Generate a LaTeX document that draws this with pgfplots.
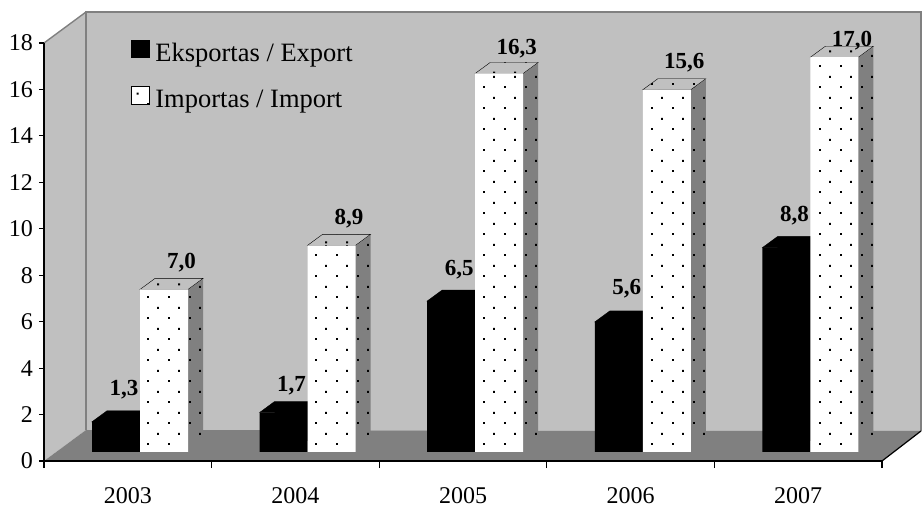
\documentclass[border=0pt]{standalone}
\usepackage{pgfplots}
\pgfplotsset{compat=1.18}
\usepackage{pgfplotstable}
\usepackage{fontspec}
\setmainfont{Liberation Serif}
\usetikzlibrary{patterns}
\definecolor{wallgray}{HTML}{C0C0C0}
\definecolor{floorgray}{HTML}{808080}
\pgfdeclarepatternformonly{sparsedots}{\pgfpointorigin}{\pgfqpoint{21pt}{21.2pt}}{\pgfqpoint{21pt}{21.2pt}}{%
  \pgfpathrectangle{\pgfqpoint{0pt}{0pt}}{\pgfqpoint{2pt}{2pt}}%
  \pgfpathrectangle{\pgfqpoint{10.5pt}{10.6pt}}{\pgfqpoint{2pt}{2pt}}%
  \pgfusepath{fill}}
% top faces, relative to the back-face top centre of each category
\pgfdeclareplotmark{topexp}{\fill[black] (-63pt,-11pt) -- (-15pt,-11pt) -- (0pt,0pt) -- (-48pt,0pt) -- cycle;}
\pgfdeclareplotmark{topimp}{\filldraw[fill=wallgray, draw=wallgray, line width=0.6pt] (-15pt,-11pt) -- (33pt,-11pt) -- (48pt,0pt) -- (0pt,0pt) -- cycle;
  \fill[pattern=sparsedots] (-15pt,-11pt) -- (33pt,-11pt) -- (48pt,0pt) -- (0pt,0pt) -- cycle;}
\pgfplotstableread{
x exp imp eo io
0 1.3 7.0 26 21
1 1.7 8.9 21.5 21
2 6.5 16.3 26 19
3 5.6 15.6 27 21
4 8.8 17.0 26 11
}\data
\begin{document}
\begin{tikzpicture}
\useasboundingbox (-44pt,-47pt) rectangle (879pt,461pt);
% walls, axis lines, ticks, legend
\begin{axis}[at={(0pt,0pt)}, anchor=south west, scale only axis, width=838pt, height=418pt,
  xmin=-0.5, xmax=4.5, ymin=0, ymax=18, axis lines*=left, axis on top, clip=false,
  axis line style={line width=1.2pt, black},
  xtick={0,...,4}, xticklabels={2003,2004,2005,2006,2007},
  minor xtick={-0.5,0.5,...,4.5},
  ytick={0,2,...,18}, tick align=outside,
  major tick length=5pt, minor tick length=7pt,
  tick style={line width=1.2pt, black},
  major x tick style={draw=none},
  ticklabel style={font=\fontsize{24}{24}\selectfont},
  /pgf/number format/assume math mode=true,
  xticklabel style={inner sep=0pt, anchor=north, yshift=-21.5pt},
  yticklabel style={inner sep=0pt, anchor=east, xshift=-6pt},
  legend cell align=left,
  legend style={at={(axis description cs:0,1)}, anchor=north west, xshift=87pt, yshift=3pt,
    draw=none, fill=none, inner sep=0pt, outer sep=0pt, row sep=23.8pt,
    font=\fontsize{26.5}{26.5}\selectfont, nodes={inner sep=0pt}},
]
\coordinate (F1) at (axis cs:-0.5,0);
\coordinate (F2) at (axis cs:4.5,0);
\coordinate (F4) at (axis cs:-0.5,18);
\coordinate (B1) at ([xshift=42pt,yshift=31pt]axis cs:-0.5,0);
\coordinate (B2) at ([xshift=39pt,yshift=30pt]axis cs:4.5,0);
\coordinate (B3) at ([xshift=39pt,yshift=31pt]axis cs:4.5,18);
\coordinate (B4) at ([xshift=42pt,yshift=31pt]axis cs:-0.5,18);
\fill[wallgray] (B1) -- (B2) -- (B3) -- (B4) -- cycle;
\fill[wallgray] (F1) -- (B1) -- (B4) -- (F4) -- cycle;
\fill[floorgray] (F1) -- (F2) -- (B2) -- (B1) -- cycle;
\draw[floorgray, line width=1.6pt] (B1) -- (B4) -- (B3) -- (B2);
\draw[floorgray, line width=1.4pt] (F4) -- (B4);
\draw[black, line width=1.2pt] (F2) -- (B2);
\addlegendimage{legend image code/.code={\fill[black] (0pt,-5pt) rectangle (18pt,12.5pt); \path (24pt,0pt);}}
\addlegendentry{Eksportas / Export}
\addlegendimage{legend image code/.code={\fill[white] (0pt,-5pt) rectangle (18pt,12.5pt); \fill[pattern=sparsedots] (0pt,-5pt) rectangle (18pt,12.5pt); \path (24pt,0pt);}}
\addlegendentry{Importas / Import}
\end{axis}
% back faces and top faces of the bars
\begin{axis}[at={(27.2pt,20pt)}, anchor=south west, scale only axis, width=838pt, height=418pt,
  xmin=-0.5, xmax=4.5, ymin=0, ymax=18, hide axis, clip=false]
\addplot[ybar, bar width=48pt, bar shift=-24pt, fill=black, draw=none] table[x=x,y=exp]{\data};
\addplot[ybar, bar width=48pt, bar shift=24pt, fill=floorgray, draw=none, postaction={pattern=sparsedots}] table[x=x,y=imp]{\data};
\addplot[only marks, mark=topexp] table[x=x,y=exp]{\data};
\addplot[only marks, mark=topimp] table[x=x,y=imp]{\data};
\end{axis}
% front faces and value labels
\begin{axis}[at={(12.2pt,9pt)}, anchor=south west, scale only axis, width=838pt, height=418pt,
  xmin=-0.5, xmax=4.5, ymin=0, ymax=18, hide axis, clip=false,
  /pgf/number format/assume math mode=true,
  /pgf/number format/fixed, /pgf/number format/fixed zerofill,
  /pgf/number format/precision=1, /pgf/number format/use comma]
\addplot[ybar, bar width=48pt, bar shift=-24pt, fill=black, draw=none,
  nodes near coords, visualization depends on={\thisrow{eo}\as\laboff},
  every node near coord/.append style={anchor=base, xshift=-16pt, yshift=\laboff,
    font=\fontsize{23}{23}\selectfont\bfseries, text=black}]
  table[x=x,y=exp]{\data};
\addplot[ybar, bar width=48pt, bar shift=24pt, fill=white, draw=none, postaction={pattern=sparsedots},
  nodes near coords, visualization depends on={\thisrow{io}\as\laboff},
  every node near coord/.append style={anchor=base, xshift=41.5pt, yshift=\laboff,
    font=\fontsize{23}{23}\selectfont\bfseries, text=black}]
  table[x=x,y=imp]{\data};
\end{axis}
\end{tikzpicture}
\end{document}
